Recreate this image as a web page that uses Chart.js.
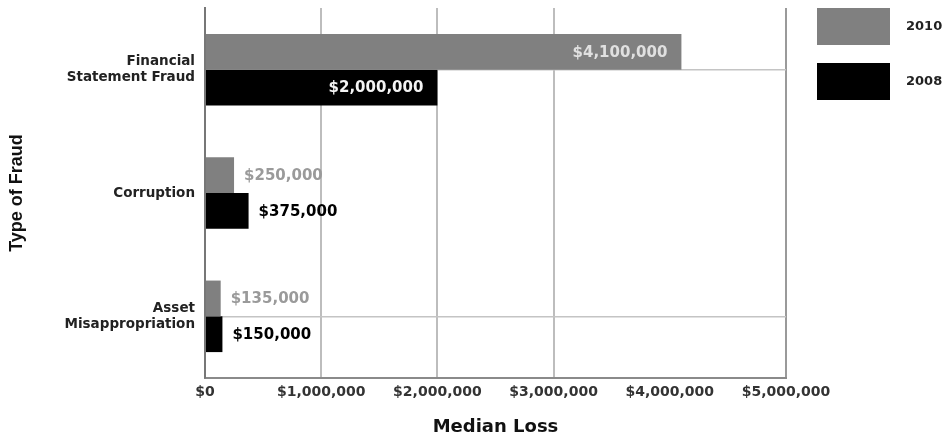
<!DOCTYPE html>
<html>
<head>
<meta charset="utf-8">
<script src="https://cdn.jsdelivr.net/npm/chart.js@4.4.0/dist/chart.umd.min.js"></script>
<style>
  html, body { margin: 0; padding: 0; background: #fff; }
  #wrap { width: 949px; height: 439px; }
</style>
</head>
<body>
<div id="wrap"><canvas id="myChart"></canvas></div>
<script>
// data
const categorias = [['Financial', 'Statement Fraud'], 'Corruption', ['Asset', 'Misappropriation']]
const years = ['2010', '2008']
const loss2010 = [4100000, 250000, 135000]
const loss2008 = [2000000, 375000, 150000]
const xTicks = [0, 1000000, 2000000, 3000000, 4000000, 5000000]

const money = v => '$' + Number(v).toLocaleString('en-US')

// value labels next to / inside the bars
const valueLabels = {
    id: 'valueLabels',
    afterDatasetsDraw(chart) {
        const ctx = chart.ctx
        ctx.save()
        ctx.font = 'bold 15px "DejaVu Sans"'
        ctx.textBaseline = 'middle'
        chart.data.datasets.forEach((ds, i) => {
            chart.getDatasetMeta(i).data.forEach((bar, j) => {
                const v = ds.data[j]
                if (v >= 1000000) {
                    ctx.textAlign = 'right'
                    ctx.fillStyle = ds.insideColor
                    ctx.fillText(money(v), bar.x - 14, bar.y + 1)
                } else {
                    ctx.textAlign = 'left'
                    ctx.fillStyle = ds.outsideColor
                    ctx.fillText(money(v), bar.x + 10, bar.y + 1)
                }
            })
        })
        ctx.restore()
    }
}

// big square legend at the top right
const bigLegend = {
    id: 'bigLegend',
    afterDraw(chart) {
        const ctx = chart.ctx
        const left = chart.chartArea.right + 31
        ctx.save()
        ctx.font = 'bold 13px "DejaVu Sans"'
        ctx.textBaseline = 'middle'
        ctx.textAlign = 'left'
        chart.data.datasets.forEach((ds, i) => {
            const top = 8 + i * 55
            ctx.fillStyle = ds.backgroundColor
            ctx.fillRect(left, top, 73, 37)
            ctx.fillStyle = '#222'
            ctx.fillText(ds.label, left + 73 + 16, top + 19)
        })
        ctx.restore()
    }
}

const ctx = document.getElementById('myChart')
const myChart = new Chart(ctx, {
    type: 'bar',
    data: {
        labels: categorias,
        datasets: [{
            label: years[0],
            data: loss2010,
            backgroundColor: '#808080',
            insideColor: '#e0e0e0',
            outsideColor: '#9a9a9a',
            categoryPercentage: 0.58,
            barPercentage: 1
        }, {
            label: years[1],
            data: loss2008,
            backgroundColor: '#000000',
            insideColor: '#f4f4f4',
            outsideColor: '#000000',
            categoryPercentage: 0.58,
            barPercentage: 1
        }]
    },
    plugins: [valueLabels, bigLegend],
    options: {
        indexAxis: 'y',
        responsive: true,
        maintainAspectRatio: false,
        animation: false,
        layout: { padding: { top: 8, right: 163, bottom: 0, left: 0 } },
        plugins: {
            legend: { display: false },
            tooltip: { enabled: false }
        },
        scales: {
            x: {
                min: 0,
                max: 5000000,
                afterBuildTicks: scale => { scale.ticks = xTicks.map(v => ({ value: v })) },
                afterFit: scale => { scale.height = 61 },
                ticks: {
                    callback: v => money(v),
                    color: '#333',
                    font: { family: 'DejaVu Sans', size: 14, weight: 'bold' },
                    padding: 6,
                    maxRotation: 0
                },
                grid: {
                    // no line at 4M in the original, the right edge is darker
                    color: c => c.index === 4 ? 'rgba(0,0,0,0)' : (c.index === 5 ? '#9a9a9a' : '#bdbdbd'),
                    lineWidth: 2,
                    drawTicks: false
                },
                border: { color: '#8a8a8a', width: 2 },
                title: {
                    display: true,
                    text: 'Median Loss',
                    color: '#111',
                    font: { family: 'DejaVu Sans', size: 18, weight: 'bold' },
                    padding: { top: 0, bottom: 1 }
                }
            },
            y: {
                afterFit: scale => {
                    scale.width = 205
                    scale.paddingTop = 0
                    scale.paddingBottom = 0
                },
                ticks: {
                    color: '#222',
                    font: { family: 'DejaVu Sans', size: 13.5, weight: 'bold' },
                    padding: 10
                },
                grid: {
                    offset: false,
                    color: c => c.index === 1 ? 'rgba(0,0,0,0)' : '#c4c4c4',
                    lineWidth: 1.5,
                    drawTicks: false
                },
                border: { color: '#777777', width: 2 },
                title: {
                    display: true,
                    text: 'Type of Fraud',
                    color: '#111',
                    font: { family: 'Liberation Sans', size: 18, weight: 'bold' },
                    padding: { top: 6, bottom: 0 }
                }
            }
        }
    }
})
</script>
</body>
</html>
